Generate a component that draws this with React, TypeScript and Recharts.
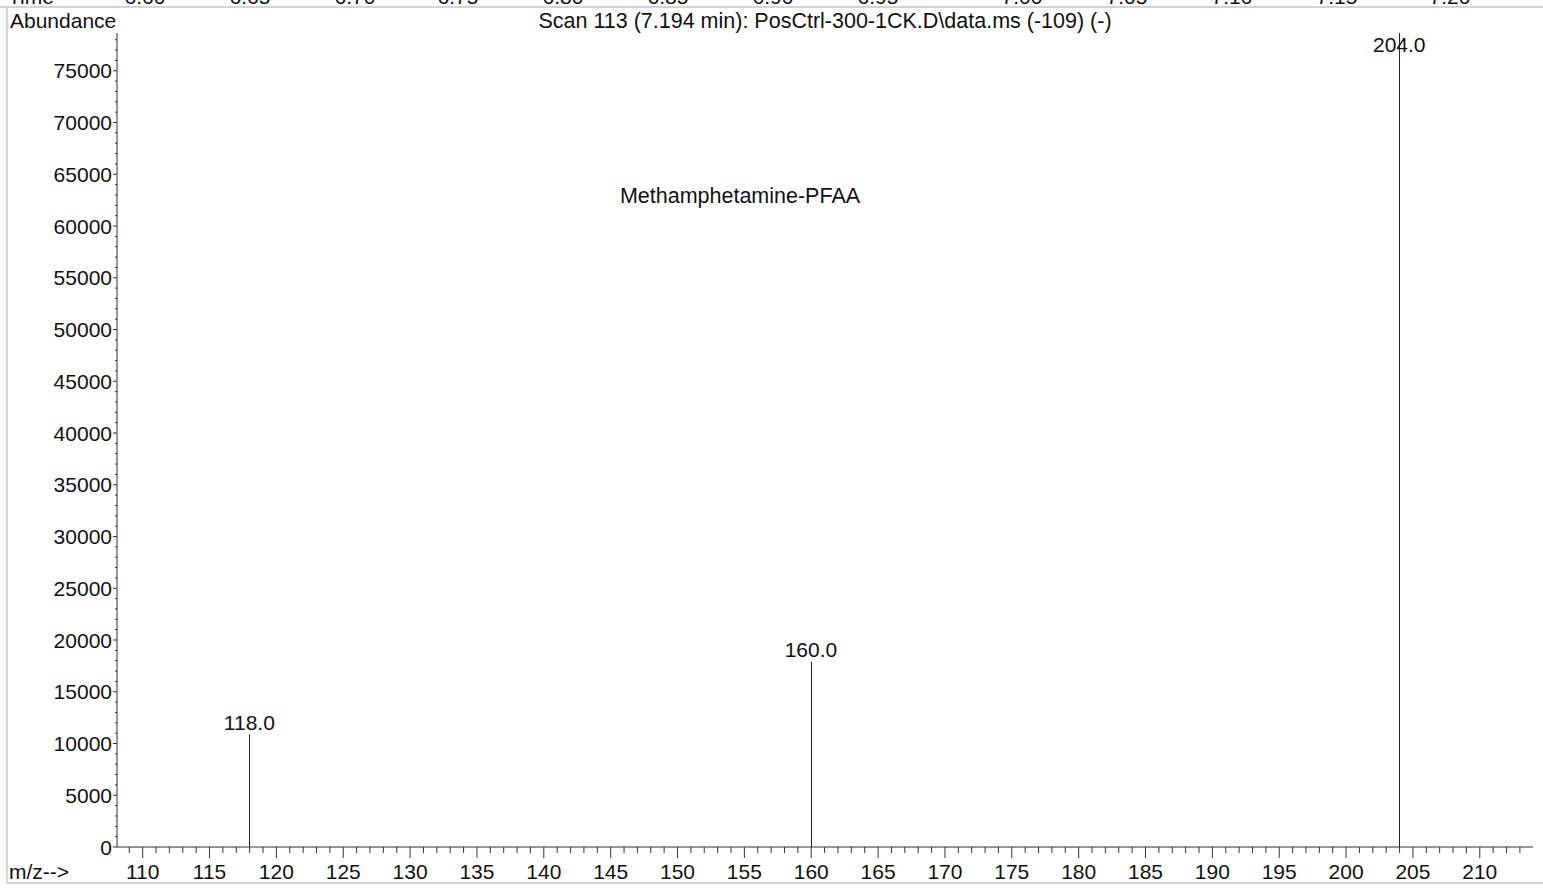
import { BarChart, Bar, XAxis, YAxis, LabelList } from "recharts";

// peaks
const mzValues = [118, 160, 204];
const abundanceValues = [10900, 17900, 78650];

const yMajorTicks = [0, 5000, 10000, 15000, 20000, 25000, 30000, 35000, 40000, 45000, 50000, 55000, 60000, 65000, 70000, 75000];
const xMajorTicks = [110, 115, 120, 125, 130, 135, 140, 145, 150, 155, 160, 165, 170, 175, 180, 185, 190, 195, 200, 205, 210];

// clipped time strip of the panel above
const timeLabels = ["6.60", "6.65", "6.70", "6.75", "6.80", "6.85", "6.90", "6.95", "7.00", "7.05", "7.10", "7.15", "7.20"];
const timeLabelX = [145, 250, 355, 458, 563, 668, 773, 878, 1022, 1127, 1232, 1337, 1450];

const data = mzValues.map((mz, i) => ({ mz, abundance: abundanceValues[i] }));

const yMinorTicks: number[] = [];
for (let v = 0; v <= 78000; v += 1000) yMinorTicks.push(v);
const xMinorTicks: number[] = [];
for (let v = 109; v <= 213; v += 1) xMinorTicks.push(v);

const FONT = "'Liberation Sans', Arial, sans-serif";
const FS = 21;

const YTick = (props: any) => {
  const { x, y, payload } = props;
  const major = yMajorTicks.includes(payload.value);
  return (
    <g>
      <line x1={x} x2={x - (major ? 4 : 2)} y1={y} y2={y} stroke="#333" />
      {major && (
        <text x={x - 5} y={y} textAnchor="end" dominantBaseline="central" fontSize={FS} fill="#111" fontFamily={FONT}>
          {payload.value}
        </text>
      )}
    </g>
  );
};

const XTick = (props: any) => {
  const { x, y, payload } = props;
  const major = xMajorTicks.includes(payload.value);
  return (
    <g>
      <line x1={x} x2={x} y1={y} y2={y + (major ? 11 : 6)} stroke="#333" />
      {major && (
        <text x={x} y={y + 24} textAnchor="middle" dominantBaseline="central" fontSize={FS} fill="#111" fontFamily={FONT}>
          {payload.value}
        </text>
      )}
    </g>
  );
};

const PeakLine = (props: any) => {
  const { x, y, width, height } = props;
  const cx = Math.round(x + width / 2) + 0.5;
  return <line x1={cx} x2={cx} y1={y} y2={y + height} stroke="#222" strokeWidth={1} />;
};

const PeakLabel = (props: any) => {
  const { x, y, width, value } = props;
  const cx = x + width / 2;
  const ty = y < 60 ? y + 11 : y - 12;
  return (
    <text x={cx} y={ty} textAnchor="middle" dominantBaseline="central" fontSize={FS} fill="#111" fontFamily={FONT}>
      {Number(value).toFixed(1)}
    </text>
  );
};

export default function App() {
  return (
    <div style={{ position: "fixed", left: 0, top: 0, width: 1543, height: 888, background: "#fff", fontFamily: FONT, overflow: "hidden" }}>
      <svg width={1543} height={888} style={{ position: "absolute", left: 0, top: 0 }}>
        <line x1={0} x2={1543} y1={7} y2={7} stroke="#d4d4d4" strokeWidth={2} />
        <line x1={7} x2={7} y1={7} y2={883} stroke="#d4d4d4" strokeWidth={2} />
        <line x1={7} x2={1543} y1={883} y2={883} stroke="#d4d4d4" strokeWidth={2} />
        <text x={8} y={4} fontSize={FS} fill="#111" fontFamily={FONT}>Time</text>
        {timeLabels.map((t, i) => (
          <text key={t} x={timeLabelX[i]} y={4} textAnchor="middle" fontSize={FS} fill="#111" fontFamily={FONT}>
            {t}
          </text>
        ))}
        <text x={10} y={20} dominantBaseline="central" fontSize={FS} fill="#111" fontFamily={FONT}>Abundance</text>
        <text x={825} y={21} textAnchor="middle" dominantBaseline="central" fontSize={21.5} fill="#111" fontFamily={FONT}>
          Scan 113 (7.194 min): PosCtrl-300-1CK.D\data.ms (-109) (-)
        </text>
        <text x={740} y={196} textAnchor="middle" dominantBaseline="central" fontSize={21.5} fill="#111" fontFamily={FONT}>
          Methamphetamine-PFAA
        </text>
        <text x={9} y={871} dominantBaseline="central" fontSize={FS} fill="#111" fontFamily={FONT}>m/z--&gt;</text>
      </svg>
      <div style={{ position: "absolute", left: 0, top: 0 }}>
        <BarChart width={1543} height={888} data={data} margin={{ top: 33, right: 10, bottom: 11, left: 7 }}>
          <XAxis
            dataKey="mz"
            type="number"
            domain={[108.08, 213.98]}
            ticks={xMinorTicks}
            interval={0}
            tickSize={0}
            tickMargin={0}
            tick={<XTick />}
            axisLine={{ stroke: "#333" }}
            height={30}
            allowDataOverflow
          />
          <YAxis
            type="number"
            domain={[0, 78650]}
            ticks={yMinorTicks}
            interval={0}
            tickSize={0}
            tickMargin={0}
            tick={<YTick />}
            axisLine={{ stroke: "#333" }}
            width={110}
            allowDataOverflow
          />
          <Bar dataKey="abundance" barSize={1} shape={<PeakLine />} isAnimationActive={false}>
            <LabelList dataKey="mz" content={<PeakLabel />} />
          </Bar>
        </BarChart>
      </div>
    </div>
  );
}
